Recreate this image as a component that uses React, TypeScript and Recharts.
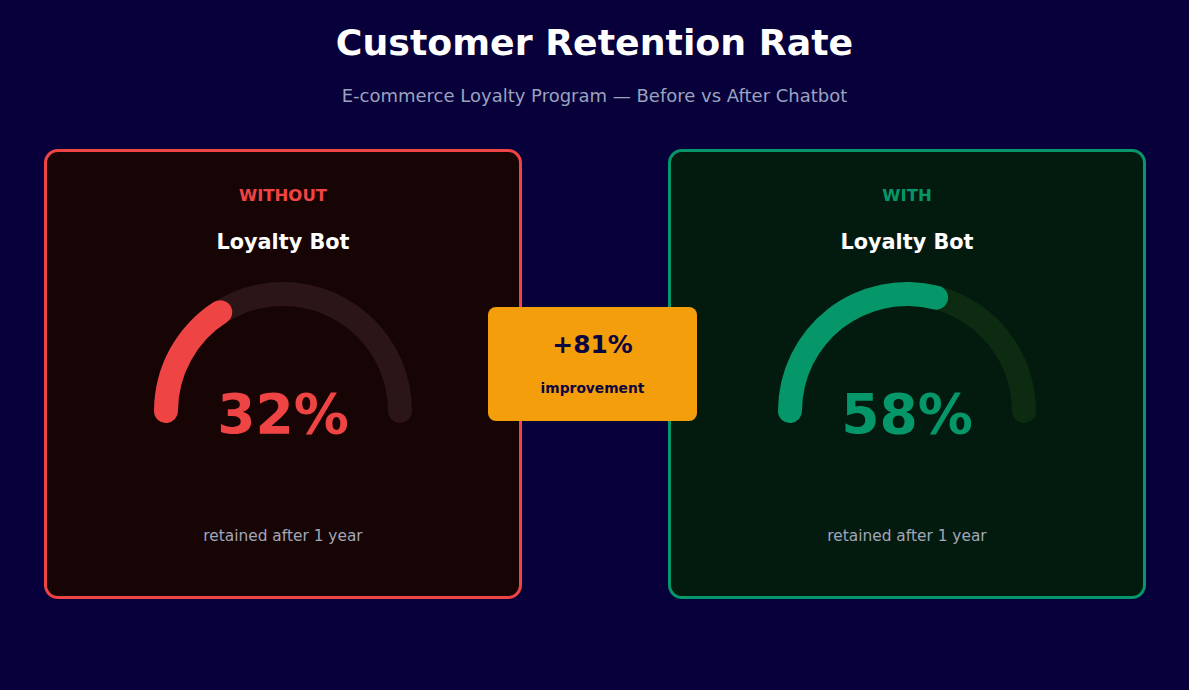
import React from 'react';
import { PieChart, Pie, Cell } from 'recharts';

const scenarios = ['WITHOUT', 'WITH'];
const productNames = ['Loyalty Bot', 'Loyalty Bot'];
const retentionValues = [32, 58];
const captions = ['retained after 1 year', 'retained after 1 year'];
const improvementPct = 81;

const accents = ['#ef4444', '#059669'];
const cardFills = ['#170404', '#031a0f'];
const trackColors = ['#2c1516', '#0c2b10'];

const FONT = '"DejaVu Sans", sans-serif';
const BG = '#07003a';

// round caps stick out past the arc ends by half the stroke width
const R_IN = 105;
const R_OUT = 129;
const CAP_DEG = ((R_OUT - R_IN) / 2 / ((R_IN + R_OUT) / 2)) * (180 / Math.PI);

function Gauge({ value, color, track }: { value: number; color: string; track: string }) {
  const endAngle = 180 - (value / 100) * 180 - CAP_DEG;
  return (
    <PieChart width={300} height={170} margin={{ top: 0, right: 0, bottom: 0, left: 0 }}>
      <Pie
        data={[{ name: 'track', value: 100 }]}
        dataKey="value"
        cx={150}
        cy={130}
        startAngle={180 + CAP_DEG}
        endAngle={-CAP_DEG}
        innerRadius={R_IN}
        outerRadius={R_OUT}
        cornerRadius={12}
        stroke="none"
        isAnimationActive={false}
      >
        <Cell fill={track} />
      </Pie>
      <Pie
        data={[{ name: 'value', value }]}
        dataKey="value"
        cx={150}
        cy={130}
        startAngle={180 + CAP_DEG}
        endAngle={endAngle}
        innerRadius={R_IN}
        outerRadius={R_OUT}
        cornerRadius={12}
        stroke="none"
        isAnimationActive={false}
      >
        <Cell fill={color} />
      </Pie>
    </PieChart>
  );
}

function Card({ i, left }: { i: number; left: number }) {
  const cx = 239;
  return (
    <div
      style={{
        position: 'absolute',
        left,
        top: 149,
        width: 478,
        height: 450,
        boxSizing: 'border-box',
        border: `3px solid ${accents[i]}`,
        borderRadius: 14,
        background: cardFills[i],
      }}
    >
      <div style={{ position: 'absolute', left: 0, right: 0, top: 33, textAlign: 'center', color: accents[i], fontWeight: 'bold', fontSize: 16.5, lineHeight: '22px' }}>
        {scenarios[i]}
      </div>
      <div style={{ position: 'absolute', left: 0, right: 0, top: 76, textAlign: 'center', color: '#ffffff', fontWeight: 'bold', fontSize: 20.8, lineHeight: '28px' }}>
        {productNames[i]}
      </div>
      <div style={{ position: 'absolute', left: cx - 150 - 3, top: 129 }}>
        <Gauge value={retentionValues[i]} color={accents[i]} track={trackColors[i]} />
      </div>
      <div style={{ position: 'absolute', left: 0, right: 0, top: 229, textAlign: 'center', color: accents[i], fontWeight: 'bold', fontSize: 55, lineHeight: '66px' }}>
        {retentionValues[i]}%
      </div>
      <div style={{ position: 'absolute', left: 0, right: 0, top: 374, textAlign: 'center', color: '#a0a7b8', fontSize: 15.4, lineHeight: '20px' }}>
        {captions[i]}
      </div>
    </div>
  );
}

export default function App() {
  return (
    <div
      style={{
        position: 'absolute',
        left: 0,
        top: 0,
        width: 1189,
        height: 690,
        background: BG,
        fontFamily: FONT,
        overflow: 'hidden',
      }}
    >
      <div style={{ position: 'absolute', left: 0, right: 0, top: 20, textAlign: 'center', color: '#ffffff', fontWeight: 'bold', fontSize: 36.3, lineHeight: '46px' }}>
        Customer Retention Rate
      </div>
      <div style={{ position: 'absolute', left: 0, right: 0, top: 84, textAlign: 'center', color: '#9aa3bf', fontSize: 18, lineHeight: '24px' }}>
        E-commerce Loyalty Program — Before vs After Chatbot
      </div>
      <Card i={0} left={44} />
      <Card i={1} left={668} />
      <div
        style={{
          position: 'absolute',
          left: 488,
          top: 307,
          width: 209,
          height: 114,
          borderRadius: 8,
          background: '#f59e0b',
          color: '#0b0540',
          textAlign: 'center',
        }}
      >
        <div style={{ position: 'absolute', left: 0, right: 0, top: 22, fontWeight: 'bold', fontSize: 24.9, lineHeight: '32px' }}>
          +{improvementPct}%
        </div>
        <div style={{ position: 'absolute', left: 0, right: 0, top: 72, fontWeight: 'bold', fontSize: 13.8, lineHeight: '18px' }}>
          improvement
        </div>
      </div>
    </div>
  );
}
